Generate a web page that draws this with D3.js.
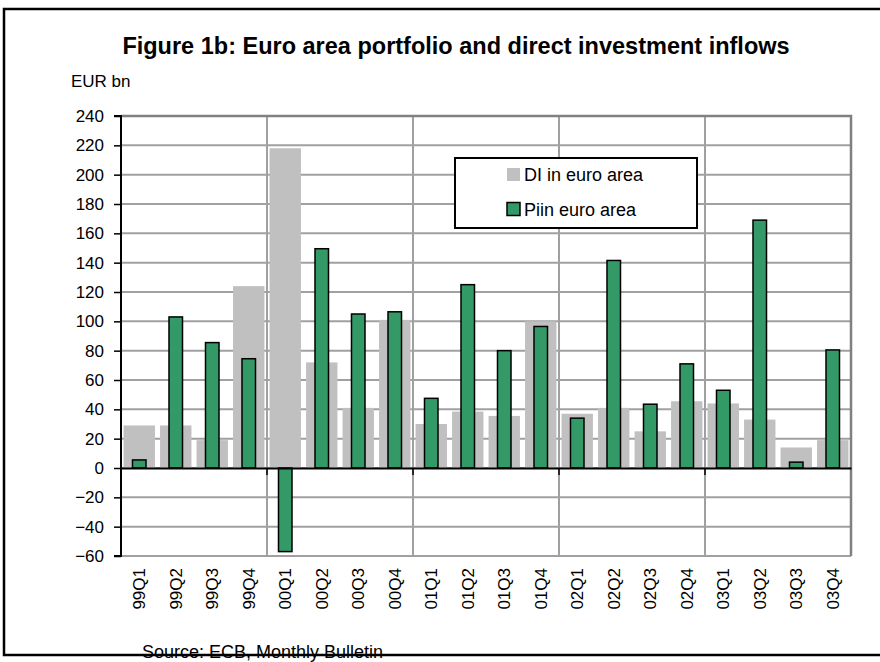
<!DOCTYPE html>
<html>
<head>
<meta charset="utf-8">
<script src="https://cdn.jsdelivr.net/npm/d3@7"></script>
<style>
  body { margin: 0; background: #fff; }
  svg text { font-family: Arial, "Liberation Sans", sans-serif; fill: #000; }
</style>
</head>
<body>
<svg id="chart" width="880" height="662"></svg>
<script>
// quarters on the x axis
const quarters = ['99Q1', '99Q2', '99Q3', '99Q4', '00Q1', '00Q2', '00Q3', '00Q4',
    '01Q1', '01Q2', '01Q3', '01Q4', '02Q1', '02Q2', '02Q3', '02Q4',
    '03Q1', '03Q2', '03Q3', '03Q4'];

// direct investment in euro area (grey), EUR bn
const diValues = [29, 29, 19, 124, 218, 72, 41, 101, 30, 38.5, 35.5, 100,
    37, 41, 25, 45.5, 44, 33, 14, 19];

// portfolio investment in euro area (green), EUR bn
const piValues = [5.5, 103, 85.5, 74.5, -57, 149.5, 105, 106.5, 47.5, 125, 80, 96.5,
    34, 141.5, 43.5, 71, 53, 169, 4, 80.5];

const yTicks = [-60, -40, -20, 0, 20, 40, 60, 80, 100, 120, 140, 160, 180, 200, 220, 240];

const seriesNames = ['DI in euro area', 'Piin euro area'];

const data = quarters.map((q, i) => ({ q: q, di: diValues[i], pi: piValues[i] }));

const plot = { left: 121, right: 851, top: 116, bottom: 556 };
const gridColor = '#a0a0a0';
const greyFill = '#c0c0c0';
const greenFill = '#339966';

const svg = d3.select('#chart');

// outer frame (right side runs off the picture)
svg.append('path')
    .attr('d', `M 890 9 H 4 V 655 H 890`)
    .attr('fill', 'none')
    .attr('stroke', '#000')
    .attr('stroke-width', 2.5);

svg.append('text')
    .attr('x', 456)
    .attr('y', 54)
    .attr('text-anchor', 'middle')
    .style('font-size', '23.5px')
    .style('font-weight', 'bold')
    .text('Figure 1b: Euro area portfolio and direct investment inflows');

svg.append('text')
    .attr('x', 71)
    .attr('y', 87)
    .style('font-size', '17px')
    .text('EUR bn');

const xScale = d3.scaleBand()
    .domain(quarters)
    .range([plot.left, plot.right])
    .padding(0);

const yScale = d3.scaleLinear()
    .domain([-60, 240])
    .range([plot.bottom, plot.top]);

// horizontal gridlines
svg.append('g')
    .selectAll('line')
    .data(yTicks)
    .join('line')
    .attr('x1', plot.left)
    .attr('x2', plot.right)
    .attr('y1', d => yScale(d))
    .attr('y2', d => yScale(d))
    .attr('stroke', gridColor)
    .attr('stroke-width', 2);

// vertical gridlines every four quarters (year boundaries)
const yearStarts = quarters.filter((q, i) => i > 0 && i % 4 === 0);
svg.append('g')
    .selectAll('line')
    .data(yearStarts)
    .join('line')
    .attr('x1', d => xScale(d))
    .attr('x2', d => xScale(d))
    .attr('y1', plot.top)
    .attr('y2', plot.bottom)
    .attr('stroke', gridColor)
    .attr('stroke-width', 2);

// plot area border on top and right
svg.append('path')
    .attr('d', `M ${plot.left} ${plot.top} H ${plot.right} V ${plot.bottom}`)
    .attr('fill', 'none')
    .attr('stroke', '#808080')
    .attr('stroke-width', 2.5);

const bw = xScale.bandwidth();
const greyW = bw * 0.86;
const greenW = bw * 0.37;

svg.append('g')
    .selectAll('rect')
    .data(data)
    .join('rect')
    .attr('x', d => xScale(d.q) + (bw - greyW) / 2)
    .attr('width', greyW)
    .attr('y', d => yScale(Math.max(0, d.di)))
    .attr('height', d => Math.abs(yScale(d.di) - yScale(0)))
    .attr('fill', greyFill);

svg.append('g')
    .selectAll('rect')
    .data(data)
    .join('rect')
    .attr('x', d => xScale(d.q) + (bw - greenW) / 2)
    .attr('width', greenW)
    .attr('y', d => yScale(Math.max(0, d.pi)))
    .attr('height', d => Math.abs(yScale(d.pi) - yScale(0)))
    .attr('fill', greenFill)
    .attr('stroke', '#000')
    .attr('stroke-width', 1.5);

// y axis
const yAxis = d3.axisLeft(yScale)
    .tickValues(yTicks)
    .tickSize(7)
    .tickPadding(10)
    .tickFormat(d3.format('d'));

const yAxisGroup = svg.append('g')
    .attr('transform', `translate(${plot.left}, 0)`)
    .call(yAxis);
yAxisGroup.select('.domain')
    .attr('stroke', '#000')
    .attr('stroke-width', 2)
    .attr('d', `M -7 ${plot.top} H 0 V ${plot.bottom} H -7`);
yAxisGroup.selectAll('.tick line').attr('stroke-width', 1.5);
yAxisGroup.selectAll('.tick text')
    .style('font-size', '17px')
    .attr('font-family', null);

// x axis along zero
const xAxis = d3.axisBottom(xScale)
    .tickValues(yearStarts)
    .tickSize(7)
    .tickFormat('')
    .tickSizeOuter(0);

const xAxisGroup = svg.append('g')
    .attr('transform', `translate(0, ${yScale(0)})`)
    .call(xAxis);
xAxisGroup.select('.domain').attr('stroke-width', 2);
xAxisGroup.selectAll('.tick')
    .attr('transform', d => `translate(${xScale(d)}, 0)`);
xAxisGroup.selectAll('.tick line').attr('stroke-width', 1.5);

// quarter labels under the plot, rotated
svg.append('g')
    .selectAll('text')
    .data(quarters)
    .join('text')
    .attr('transform', d => `translate(${xScale(d) + bw / 2 + 6}, 568) rotate(-90)`)
    .attr('text-anchor', 'end')
    .style('font-size', '17px')
    .text(d => d);

// legend
const legend = svg.append('g')
    .attr('transform', 'translate(455, 158)');

legend.append('rect')
    .attr('width', 242)
    .attr('height', 70)
    .attr('fill', '#fff')
    .attr('stroke', '#000')
    .attr('stroke-width', 2);

const legendItems = legend.selectAll('.legend-item')
    .data(seriesNames)
    .join('g')
    .attr('class', 'legend-item')
    .attr('transform', (d, i) => `translate(52, ${10 + i * 34.5})`);

legendItems.append('rect')
    .attr('width', 13)
    .attr('height', 13)
    .attr('fill', (d, i) => i === 0 ? greyFill : greenFill)
    .attr('stroke', (d, i) => i === 0 ? 'none' : '#000')
    .attr('stroke-width', 1.5);

legendItems.append('text')
    .attr('x', 17)
    .attr('y', 13)
    .style('font-size', '18px')
    .text(d => d);

svg.append('text')
    .attr('x', 142)
    .attr('y', 658)
    .style('font-size', '18px')
    .text('Source: ECB, Monthly Bulletin');
</script>
</body>
</html>
